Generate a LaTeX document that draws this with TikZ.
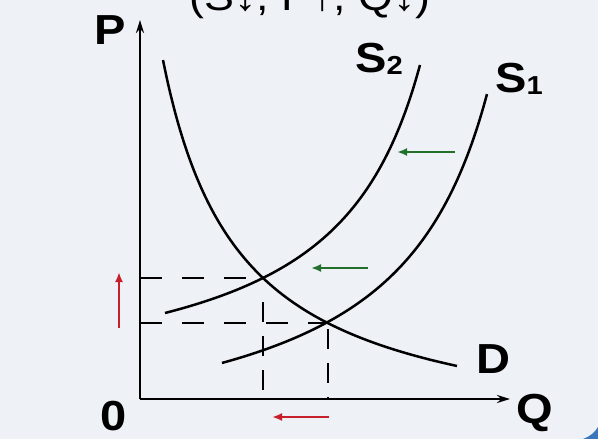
\documentclass[tikz,border=0pt]{standalone}
\usepackage{fontspec}
\setmainfont[FakeStretch=1.12]{Liberation Sans}
\usepackage{xcolor}
\usepackage{tikz}
\usetikzlibrary{arrows.meta, positioning, calc}
\definecolor{panel}{RGB}{238,241,246}
\definecolor{shiftgreen}{RGB}{34,112,44}
\definecolor{shiftred}{RGB}{200,32,42}
\definecolor{frameblue}{RGB}{58,118,188}
\newcommand{\curvelbl}[2]{#1\raisebox{-2pt}{\fontsize{26}{26}\selectfont #2}}

\begin{document}
\begin{tikzpicture}[x=1pt, y=-1pt,
    axis/.style={line width=2.8pt, -{Stealth[length=13pt, width=8pt]}},
    curve/.style={line width=2.5pt, smooth, samples=70},
    guide/.style={line width=2.6pt, dash pattern=on 22pt off 20pt},
    vguide/.style={line width=2.6pt, dash pattern=on 20pt off 14pt},
    movearrow/.style={line width=2.4pt, -{Latex[length=10pt, width=8pt]}},
    lbl/.style={font=\fontsize{42}{42}\selectfont\bfseries, inner sep=0pt, anchor=base west}]
  \useasboundingbox (0,0) rectangle (598,439);
  \clip (0,0) rectangle (598,439);
  \fill[panel] (0,0) rectangle (598,439);
  \fill[frameblue] (583,439) .. controls (591,436) and (595,432) .. (598,427) -- (598,439) -- cycle;

  \coordinate (O) at (140,399);
  \coordinate (Ptop) at (140,20);
  \coordinate (Qend) at (510,399);
  \coordinate (eB) at (263,278);
  \coordinate (eA) at (328,323);

  \node[font=\fontsize{40}{40}\selectfont, inner sep=0pt, anchor=base] (title) at (310,10) {(S↓, P↑, Q↓)};

  \draw[guide] (O |- eB) -- (eB);
  \draw[guide] (O |- eA) -- (eA);
  \draw[vguide] ($(eB)+(0,24)$) -- (eB |- O);
  \draw[vguide] ($(eA)+(0,6)$) -- (eA |- O);

  \draw[curve] plot[domain=163:457] (\x, {446.4 - 298.62/((\x-85.7)/100)});
  \draw[curve] plot[domain=165:420] (\x, {401.6 - 306.67/((511.1-\x)/100)});
  \draw[curve] plot[domain=222:487] (\x, {462.7 - 362.39/((585.3-\x)/100)});

  \draw[axis] (O) -- (Ptop);
  \draw[axis] (O) -- (Qend);

  \coordinate (gA1) at (455,152);
  \coordinate (gA2) at (397,152);
  \coordinate (gB1) at (368,268);
  \coordinate (gB2) at (311,268);
  \coordinate (rP1) at (119,328);
  \coordinate (rP2) at (119,272);
  \coordinate (rQ1) at (329,417);
  \coordinate (rQ2) at (272,417);
  \draw[movearrow, shiftgreen] (gA1) -- (gA2);
  \draw[movearrow, shiftgreen] (gB1) -- (gB2);
  \draw[movearrow, shiftred] (rP1) -- (rP2);
  \draw[movearrow, shiftred] (rQ1) -- (rQ2);

  \node[lbl] (Plbl) at (94,45) {P};
  \node[lbl] (zero) at (100,430) {0};
  \node[lbl] (Qlbl) at (516,423) {Q};
  \node[lbl] (Dlbl) at (476,373) {D};
  \node[lbl] (S2lbl) at (355,72) {\curvelbl{S}{2}};
  \node[lbl] (S1lbl) at (495,92) {\curvelbl{S}{1}};
\end{tikzpicture}
\end{document}
